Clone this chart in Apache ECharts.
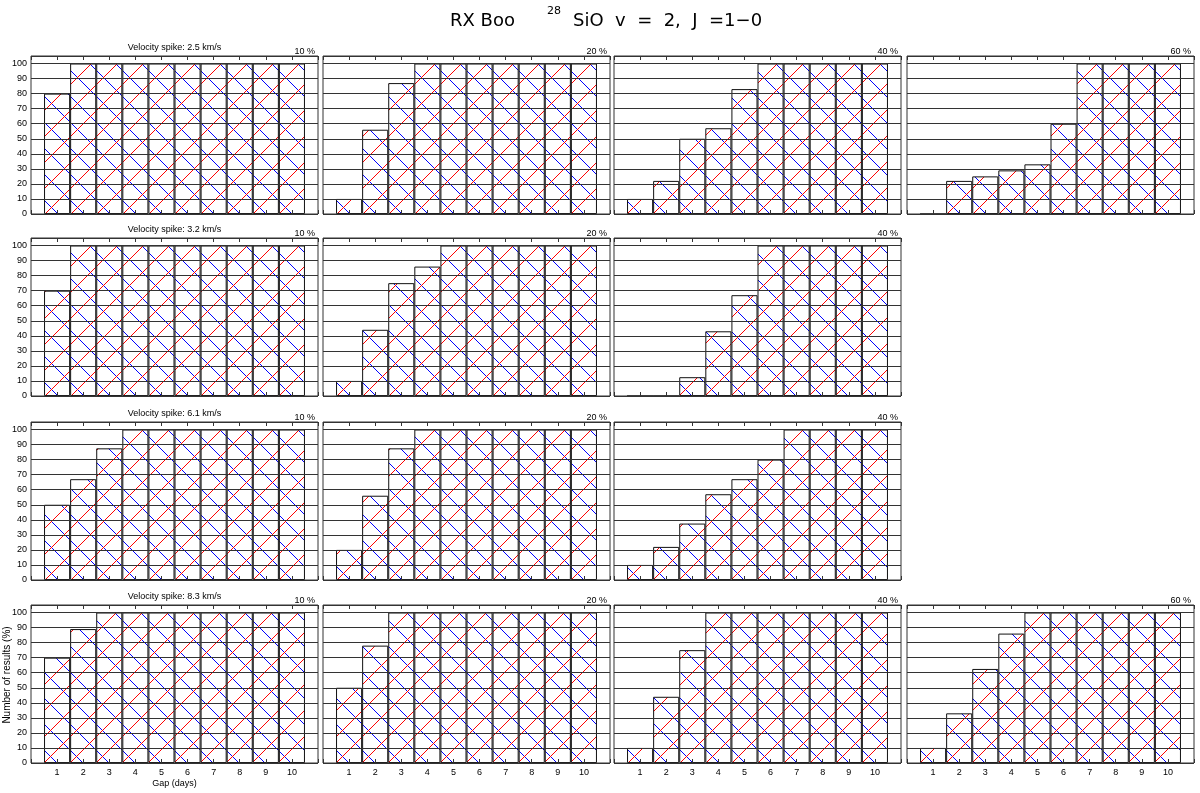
<!DOCTYPE html>
<html>
<head>
<meta charset="utf-8">
<script src="https://cdn.jsdelivr.net/npm/echarts@6/dist/echarts.min.js"></script>
<style>
html,body{margin:0;padding:0;background:#fff;}
#chart{width:1200px;height:793px;}
</style>
</head>
<body>
<div id="chart"></div>
<script>
// ---------------- data ----------------
const gaps = [1, 2, 3, 4, 5, 6, 7, 8, 9, 10];
const yTickMax = 100;
const spikeLabels = ['Velocity spike: 2.5 km/s', 'Velocity spike: 3.2 km/s', 'Velocity spike: 6.1 km/s', 'Velocity spike: 8.3 km/s'];
const noiseLabels = ['10 %', '20 %', '40 %', '60 %'];

// row 1 : 2.5 km/s
const v25_n10 = [80, 100, 100, 100, 100, 100, 100, 100, 100, 100];
const v25_n20 = [10, 56, 87, 100, 100, 100, 100, 100, 100, 100];
const v25_n40 = [10, 22, 50, 57, 83, 100, 100, 100, 100, 100];
const v25_n60 = [0, 22, 25, 29, 33, 60, 100, 100, 100, 100];
// row 2 : 3.2 km/s
const v32_n10 = [70, 100, 100, 100, 100, 100, 100, 100, 100, 100];
const v32_n20 = [10, 44, 75, 86, 100, 100, 100, 100, 100, 100];
const v32_n40 = [0, 0, 12.5, 43, 67, 100, 100, 100, 100, 100];
// row 3 : 6.1 km/s
const v61_n10 = [50, 67, 87.5, 100, 100, 100, 100, 100, 100, 100];
const v61_n20 = [20, 56, 87.5, 100, 100, 100, 100, 100, 100, 100];
const v61_n40 = [10, 22, 37.5, 57, 67, 80, 100, 100, 100, 100];
// row 4 : 8.3 km/s
const v83_n10 = [70, 89, 100, 100, 100, 100, 100, 100, 100, 100];
const v83_n20 = [50, 78, 100, 100, 100, 100, 100, 100, 100, 100];
const v83_n40 = [10, 44, 75, 100, 100, 100, 100, 100, 100, 100];
const v83_n60 = [10, 33, 62.5, 86, 100, 100, 100, 100, 100, 100];

const panels = [
  {row: 0, col: 0, values: v25_n10}, {row: 0, col: 1, values: v25_n20},
  {row: 0, col: 2, values: v25_n40}, {row: 0, col: 3, values: v25_n60},
  {row: 1, col: 0, values: v32_n10}, {row: 1, col: 1, values: v32_n20},
  {row: 1, col: 2, values: v32_n40},
  {row: 2, col: 0, values: v61_n10}, {row: 2, col: 1, values: v61_n20},
  {row: 2, col: 2, values: v61_n40},
  {row: 3, col: 0, values: v83_n10}, {row: 3, col: 1, values: v83_n20},
  {row: 3, col: 2, values: v83_n40}, {row: 3, col: 3, values: v83_n60}
];

// ---------------- layout / style ----------------
const colLeft = [31, 323, 614, 907];
const rowTop = [56, 238, 422, 605];
const GW = 287, GH = 158;
const XMAX = 11, YMAX = 105;
const T = 26;
const FONT = 'Liberation Sans';
const LINE = '#333';

// opaque hatch tile, pixel-exact diagonals (red "/" and blue "\")
function hatchTile() {
  const c = document.createElement('canvas');
  c.width = T; c.height = T;
  const g = c.getContext('2d');
  g.fillStyle = '#ffffff';
  g.fillRect(0, 0, T, T);
  g.fillStyle = '#0000ff';
  for (let x = 0; x < T; x++) g.fillRect(x, (x + T / 2) % T, 1, 1);
  g.fillStyle = '#ff0000';
  for (let x = 0; x < T; x++) g.fillRect(x, T - 1 - x, 1, 1);
  return c;
}
const tile = hatchTile();

const grid = [], xAxis = [], yAxis = [], series = [], graphic = [];

panels.forEach((p, i) => {
  const left = colLeft[p.col], top = rowTop[p.row];
  const isBottom = p.row === 3, isLeft = p.col === 0;
  grid.push({left: left, top: top, width: GW, height: GH, show: true, z: 5,
    borderColor: LINE, borderWidth: 1, backgroundColor: 'transparent',
    containLabel: false, outerBoundsMode: 'none'});
  const xCommon = {type: 'value', gridIndex: i, min: 0, max: XMAX, interval: 1, z: 5,
    axisLine: {show: false}, splitLine: {show: false},
    axisTick: {show: true, inside: true, length: 4, lineStyle: {color: LINE, width: 1}}};
  xAxis.push(Object.assign({}, xCommon, {position: 'bottom',
    axisLabel: {show: isBottom, margin: 5, fontFamily: FONT, fontSize: 9, color: '#000',
      formatter: v => (v >= 1 && v <= 10) ? String(v) : ''},
    name: (isBottom && isLeft) ? 'Gap (days)' : '', nameLocation: 'middle', nameGap: 16,
    nameMoveOverlap: false,
    nameTextStyle: {fontFamily: FONT, fontSize: 9, color: '#000'}}));
  xAxis.push(Object.assign({}, xCommon, {position: 'top', axisLabel: {show: false}}));
  yAxis.push({type: 'value', gridIndex: i, min: 0, max: YMAX, interval: 10, z: 5,
    axisLine: {show: false}, axisTick: {show: false},
    splitLine: {show: true, lineStyle: {color: LINE, width: 1}},
    axisLabel: {show: isLeft, margin: 4, fontFamily: FONT, fontSize: 9, color: '#000',
      formatter: v => v > yTickMax ? '' : String(v)},
    name: (isBottom && isLeft) ? 'Number of results (%)' : '', nameLocation: 'middle', nameGap: 19,
    nameMoveOverlap: false,
    nameTextStyle: {fontFamily: FONT, fontSize: 10, color: '#000', padding: [0, 0, 0, 18]}});
  let x0 = Math.round(left + GW * 0.5 / XMAX);
  const y0 = Math.round(top + GH);
  if ((x0 + y0 - T) % 2 === 0) x0 += 1;   // keep the 1px hatch lines on a colour-preserving pixel phase
  series.push({type: 'bar', xAxisIndex: 2 * i, yAxisIndex: i, barWidth: '100%', z: 1,
    silent: true, animation: false,
    data: gaps.map((g, k) => [g, p.values[k]]),
    itemStyle: {color: {image: tile, repeat: 'repeat', x: x0, y: y0 - T},
      borderColor: '#111', borderWidth: 1}});
  graphic.push({type: 'text', x: left + GW - 3, y: top - 4.5,
    style: {text: noiseLabels[p.col], font: '9px "' + FONT + '"', fill: '#000', align: 'right', verticalAlign: 'middle'}});
  if (isLeft) {
    graphic.push({type: 'text', x: left + GW / 2, y: top - 8,
      style: {text: spikeLabels[p.row], font: '9px "' + FONT + '"', fill: '#000', align: 'center', verticalAlign: 'middle'}});
  }
});

// main title
graphic.push({type: 'text', x: 450, y: 21,
  style: {text: 'RX Boo', font: '18px "DejaVu Sans"', fill: '#000', align: 'left', verticalAlign: 'middle'}});
graphic.push({type: 'text', x: 547, y: 11,
  style: {text: '28', font: '11px "DejaVu Sans"', fill: '#000', align: 'left', verticalAlign: 'middle'}});
graphic.push({type: 'text', x: 573, y: 21,
  style: {text: 'SiO  v  =  2,  J  =1\u22120', font: '18px "DejaVu Sans"', fill: '#000', align: 'left', verticalAlign: 'middle'}});

const chart = echarts.init(document.getElementById('chart'), null, {renderer: 'canvas'});
chart.setOption({
  animation: false,
  backgroundColor: '#fff',
  textStyle: {fontFamily: FONT},
  grid, xAxis, yAxis, series, graphic
});
</script>
</body>
</html>
